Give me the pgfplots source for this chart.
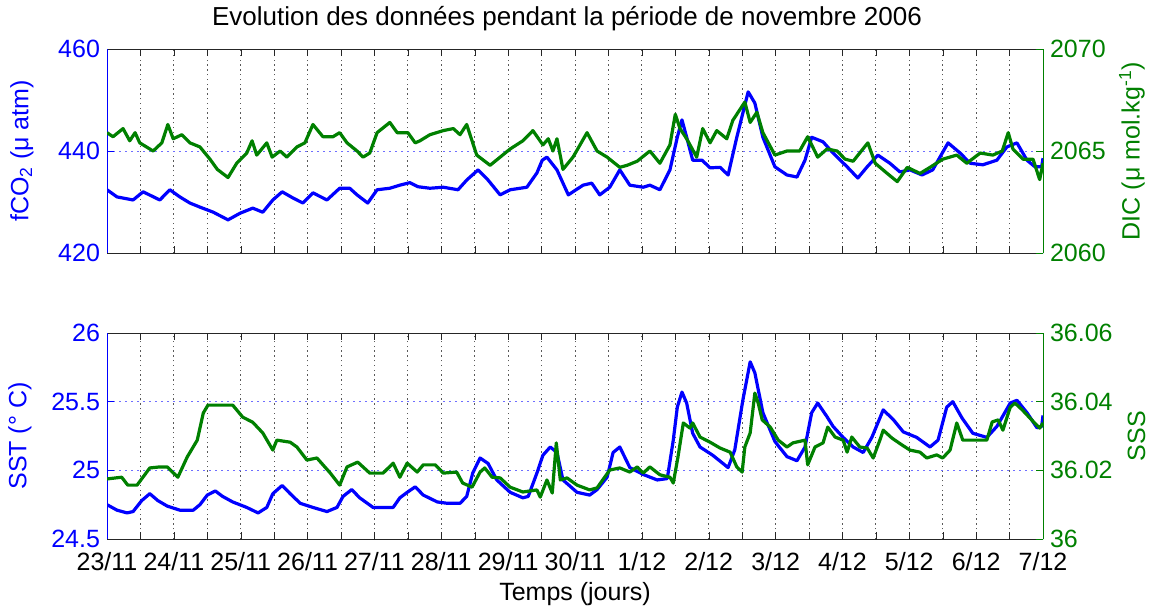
\documentclass[border=0pt]{standalone}
\usepackage{fontspec}
\setmainfont{Liberation Sans}
\usepackage{pgfplots}
\pgfplotsset{compat=1.18}
\definecolor{mblue}{RGB}{0,0,255}
\definecolor{mgreen}{RGB}{0,128,0}
\definecolor{gridblue}{RGB}{110,110,255}

\pgfplotsset{
  panel/.style={
    width=468pt, scale only axis,
    xmin=0, xmax=14,
    xtick={0,0.5,...,14},
    tick align=inside,
    major tick length=3.5pt,
    tick label style={font=\fontsize{12.5}{14}\selectfont},
    label style={font=\fontsize{12.5}{14}\selectfont},
  },
  leftax/.style={panel,
    axis x line*=box, axis y line*=left,
    x axis line style={black!85},
    y axis line style={mblue},
    x tick style={black!85},
    y tick style={mblue},
    yticklabel style={mblue},
    xticklabel style={yshift=-3pt},
    xmajorgrids, ymajorgrids,
    x grid style={black!65, dash pattern=on 0.7pt off 1.7pt},
    y grid style={gridblue, dash pattern=on 0.8pt off 2.2pt},
    ylabel style={mblue},
  },
  rightax/.style={panel,
    axis x line=none, axis y line*=right,
    y axis line style={mgreen},
    y tick style={mgreen},
    yticklabel style={mgreen},
    ylabel style={mgreen},
  },
  bl/.style={mblue, line width=1.6pt, line join=round},
  gl/.style={mgreen, line width=1.6pt, line join=round},
}

\begin{document}
\begin{tikzpicture}
\useasboundingbox (0,0) rectangle (577pt,-303.5pt);

% ---- top panel: fCO2 / DIC
\begin{axis}[leftax, at={(53.5pt,-126.5pt)}, anchor=south west, height=102pt,
  ymin=420, ymax=460, ytick={420,440,460}, yticklabels={420,440,460},
  xticklabels={},
  ylabel={fCO\textsubscript{2} (μ atm)},
  ylabel style={at={(axis description cs:-0.091,0.5)}, anchor=center},
  title={Evolution des données pendant la période de novembre 2006},
  title style={font=\fontsize{13}{15}\selectfont, at={(axis description cs:0.5,1.055)}, anchor=base, xshift=-4pt},
]
\addplot[bl] coordinates {
(0,432.4) (0.15,431) (0.39,430.4) (0.54,432) (0.79,430.4) (0.94,432.4) (1.09,431) (1.24,429.8)
(1.39,429) (1.59,428) (1.81,426.5) (1.99,427.8) (2.18,428.8) (2.33,428) (2.48,430.4) (2.62,432)
(2.78,430.8) (2.93,429.8) (3.08,431.8) (3.29,430.4) (3.48,432.7) (3.63,432.7) (3.74,431.4) (3.90,429.8)
(4.04,432.4) (4.23,432.7) (4.38,433.3) (4.53,433.8) (4.65,433) (4.83,432.7) (5.03,432.9) (5.25,432.4)
(5.38,434.3) (5.55,436.3) (5.70,434.3) (5.88,431.4) (6.03,432.4) (6.28,432.9) (6.43,435.7) (6.51,438.2)
(6.58,438.8) (6.73,436.3) (6.90,431.4) (7.12,433.3) (7.25,433.7) (7.37,431.4) (7.52,432.9) (7.67,436.3)
(7.82,433.3) (8.02,432.9) (8.12,433.3) (8.27,432.4) (8.42,436.3) (8.53,442.7) (8.60,446.1) (8.67,442.7)
(8.76,438.2) (8.90,438.2) (9.02,436.7) (9.17,436.8) (9.29,435.3) (9.42,442.7) (9.59,451.6) (9.69,449.4)
(9.81,442.7) (9.99,436.9) (10.17,435.3) (10.32,434.9) (10.44,438.2) (10.54,442.7) (10.71,441.8) (10.86,439.6)
(11.07,436.9) (11.23,434.7) (11.37,436.9) (11.53,439.2) (11.71,437.6) (11.86,435.9) (12.01,436.3) (12.19,435.3)
(12.35,436.3) (12.58,441.6) (12.76,439.6) (12.91,437.6) (13.10,437.3) (13.31,438.2) (13.46,440.8) (13.61,441.6)
(13.76,438.2) (13.88,436.9) (13.98,436.9) (14,438.6)
};
\end{axis}
\begin{axis}[rightax, at={(53.5pt,-126.5pt)}, anchor=south west, height=102pt,
  ymin=2060, ymax=2070, ytick={2060,2065,2070}, yticklabels={2060,2065,2070},
  ylabel={DIC (μ mol.kg\textsuperscript{-1})},
  ylabel style={at={(axis description cs:1.095,0.5)}, anchor=center},
]
\addplot[gl] coordinates {
(0,2065.9) (0.09,2065.7) (0.24,2066.1) (0.34,2065.5) (0.42,2065.9) (0.49,2065.4) (0.69,2065.0) (0.82,2065.4)
(0.91,2066.3) (0.99,2065.6) (1.12,2065.8) (1.24,2065.4) (1.39,2065.2) (1.54,2064.6) (1.65,2064.1) (1.81,2063.7)
(1.94,2064.4) (2.09,2064.9) (2.17,2065.5) (2.24,2064.8) (2.39,2065.4) (2.47,2064.7) (2.59,2065.0) (2.69,2064.7)
(2.84,2065.2) (2.96,2065.4) (3.08,2066.3) (3.23,2065.7) (3.38,2065.7) (3.48,2065.9) (3.59,2065.4) (3.74,2065.0)
(3.83,2064.7) (3.93,2064.9) (4.04,2065.9) (4.23,2066.4) (4.34,2065.9) (4.50,2065.9) (4.61,2065.4) (4.68,2065.5)
(4.83,2065.8) (5.03,2066.0) (5.18,2066.1) (5.28,2065.8) (5.38,2066.3) (5.53,2064.8) (5.73,2064.3) (5.88,2064.7)
(6.03,2065.1) (6.22,2065.5) (6.37,2066.0) (6.52,2065.3) (6.60,2065.6) (6.67,2065.0) (6.73,2065.6) (6.82,2064.1)
(6.97,2064.7) (7.18,2065.9) (7.33,2065.0) (7.48,2064.7) (7.67,2064.2) (7.78,2064.3) (7.93,2064.5) (8.12,2065.0)
(8.27,2064.4) (8.42,2065.3) (8.50,2066.8) (8.57,2066.1) (8.67,2065.6) (8.82,2064.7) (8.91,2066.1) (9.02,2065.4)
(9.12,2066.0) (9.27,2065.6) (9.36,2066.5) (9.54,2067.4) (9.62,2066.4) (9.72,2066.9) (9.81,2065.9) (9.99,2064.8)
(10.17,2065.0) (10.36,2065.0) (10.48,2065.7) (10.63,2064.7) (10.77,2065.1) (10.92,2065.0) (11.04,2064.6) (11.16,2064.5)
(11.38,2065.4) (11.49,2064.4) (11.67,2063.9) (11.82,2063.5) (11.97,2064.2) (12.16,2063.9) (12.31,2064.2) (12.50,2064.6)
(12.71,2064.8) (12.86,2064.4) (13.06,2064.9) (13.25,2064.8) (13.39,2065.0) (13.48,2065.9) (13.55,2065.1) (13.70,2064.6)
(13.85,2064.6) (13.95,2063.6) (14,2064.4)
};
\end{axis}

% ---- bottom panel: SST / SSS
\begin{axis}[leftax, at={(53.5pt,-269.5pt)}, anchor=south west, height=103pt,
  ymin=24.5, ymax=26, ytick={24.5,25,25.5,26}, yticklabels={24.5,25,25.5,26},
  xticklabels={23/11,,24/11,,25/11,,26/11,,27/11,,28/11,,29/11,,30/11,,1/12,,2/12,,3/12,,4/12,,5/12,,6/12,,7/12},
  ylabel={SST (° C)},
  ylabel style={at={(axis description cs:-0.093,0.5)}, anchor=center},
  xlabel={Temps (jours)},
  xlabel style={at={(axis description cs:0.5,-0.30)}, anchor=base},
]
\addplot[bl] coordinates {
(0,24.75) (0.15,24.71) (0.30,24.69) (0.39,24.70) (0.52,24.78) (0.64,24.83) (0.76,24.78) (0.90,24.74)
(1.09,24.71) (1.29,24.71) (1.39,24.75) (1.50,24.82) (1.62,24.85) (1.73,24.81) (1.88,24.77) (2.09,24.73)
(2.26,24.69) (2.39,24.73) (2.48,24.83) (2.62,24.89) (2.74,24.83) (2.89,24.76) (3.08,24.73) (3.29,24.70)
(3.44,24.73) (3.53,24.81) (3.66,24.86) (3.78,24.80) (3.98,24.73) (4.28,24.73) (4.38,24.80) (4.49,24.84)
(4.61,24.88) (4.73,24.82) (4.94,24.77) (5.09,24.76) (5.28,24.76) (5.38,24.81) (5.47,24.98) (5.58,25.09)
(5.70,25.05) (5.83,24.93) (6.03,24.84) (6.22,24.80) (6.30,24.81) (6.43,24.98) (6.52,25.11) (6.63,25.17)
(6.73,25.13) (6.82,24.93) (7.03,24.84) (7.22,24.82) (7.33,24.86) (7.48,24.95) (7.57,25.13) (7.67,25.17)
(7.82,25.02) (8.02,24.97) (8.23,24.93) (8.38,24.94) (8.47,25.22) (8.53,25.46) (8.60,25.57) (8.67,25.49)
(8.76,25.27) (8.87,25.17) (9.06,25.11) (9.29,25.02) (9.39,25.15) (9.51,25.51) (9.62,25.79) (9.69,25.71)
(9.81,25.42) (9.99,25.21) (10.17,25.10) (10.32,25.07) (10.44,25.17) (10.54,25.42) (10.63,25.49) (10.77,25.39)
(10.86,25.32) (11.01,25.24) (11.16,25.17) (11.31,25.13) (11.44,25.24) (11.61,25.44) (11.76,25.37) (11.91,25.28)
(12.11,25.24) (12.31,25.17) (12.43,25.22) (12.56,25.46) (12.65,25.50) (12.79,25.38) (12.95,25.27) (13.16,25.24)
(13.31,25.32) (13.51,25.49) (13.61,25.51) (13.76,25.42) (13.91,25.31) (13.98,25.32) (14,25.40)
};
\end{axis}
\begin{axis}[rightax, at={(53.5pt,-269.5pt)}, anchor=south west, height=103pt,
  ymin=36, ymax=36.06, ytick={36,36.02,36.04,36.06}, yticklabels={36,36.02,36.04,36.06},
  ylabel={SSS},
  ylabel style={at={(axis description cs:1.100,0.5)}, anchor=center},
]
\addplot[gl] coordinates {
(0,36.0175) (0.22,36.018) (0.31,36.0157) (0.45,36.0157) (0.64,36.0207) (0.79,36.021) (0.90,36.021) (1.06,36.018)
(1.20,36.0239) (1.35,36.0288) (1.44,36.0367) (1.51,36.039) (1.88,36.039) (2.03,36.0355) (2.18,36.034) (2.33,36.0309)
(2.48,36.0259) (2.54,36.0288) (2.74,36.0282) (2.84,36.0268) (2.99,36.023) (3.14,36.0236) (3.34,36.0192) (3.48,36.0157)
(3.59,36.021) (3.75,36.0224) (3.93,36.0192) (4.13,36.0192) (4.28,36.0221) (4.38,36.018) (4.49,36.0221) (4.64,36.0195)
(4.73,36.0216) (4.91,36.0216) (5.03,36.0192) (5.23,36.0195) (5.32,36.0163) (5.46,36.0151) (5.58,36.0195) (5.65,36.0207)
(5.76,36.018) (5.88,36.0178) (6.03,36.0151) (6.22,36.0137) (6.43,36.0143) (6.48,36.0122) (6.58,36.0172) (6.66,36.0134)
(6.72,36.028) (6.78,36.0172) (6.88,36.0178) (7.03,36.0157) (7.22,36.0143) (7.33,36.0149) (7.52,36.0201) (7.67,36.0207)
(7.82,36.0195) (7.93,36.021) (8.02,36.0192) (8.12,36.021) (8.27,36.0187) (8.42,36.018) (8.47,36.0163) (8.54,36.0239)
(8.62,36.0338) (8.72,36.0323) (8.76,36.0338) (8.87,36.0297) (9.02,36.0282) (9.17,36.0265) (9.32,36.0253) (9.42,36.021)
(9.50,36.0195) (9.54,36.0268) (9.62,36.0309) (9.69,36.0425) (9.74,36.0396) (9.80,36.0347) (9.92,36.0326) (10.04,36.0288)
(10.17,36.0268) (10.26,36.028) (10.44,36.0288) (10.48,36.0216) (10.59,36.0268) (10.71,36.028) (10.78,36.0326) (10.89,36.0297)
(11.01,36.0288) (11.07,36.0253) (11.14,36.0297) (11.26,36.0268) (11.37,36.0265) (11.46,36.0236) (11.56,36.0288) (11.61,36.0317)
(11.74,36.0294) (11.89,36.0274) (12.01,36.0259) (12.16,36.0253) (12.26,36.0236) (12.41,36.0245) (12.50,36.0236) (12.61,36.0259)
(12.71,36.0338) (12.80,36.0288) (12.95,36.0288) (13.16,36.0288) (13.24,36.0341) (13.33,36.0347) (13.40,36.0317) (13.51,36.0384)
(13.58,36.0396) (13.69,36.0376) (13.83,36.0347) (13.95,36.0323) (14,36.0338)
};
\end{axis}
\end{tikzpicture}
\end{document}
